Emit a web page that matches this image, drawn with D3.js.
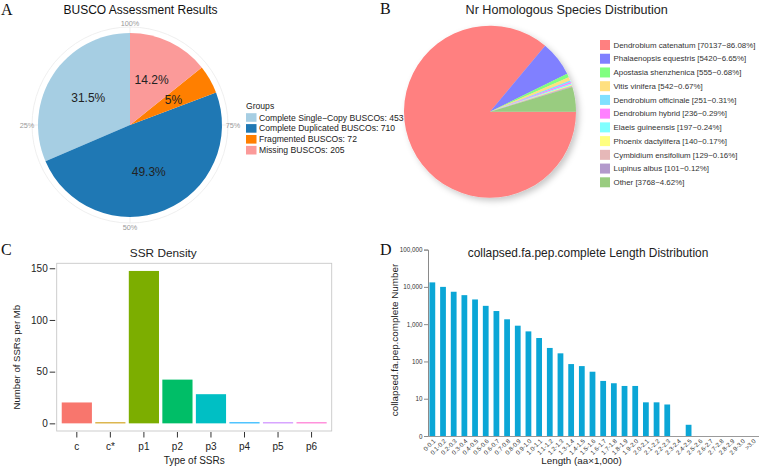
<!DOCTYPE html>
<html><head><meta charset="utf-8">
<script src="https://cdn.jsdelivr.net/npm/d3@7"></script>
<style>body{margin:0;background:#fff}svg{display:block;font-family:"Liberation Sans",Arial,sans-serif}</style>
</head><body>
<svg id="c" width="759" height="467"></svg>
<script>
// ---- Panel A data ----
const buscoGroups = ["Complete Single\u2212Copy BUSCOs", "Complete Duplicated BUSCOs", "Fragmented BUSCOs", "Missing BUSCOs"];
const buscoCounts = [453, 710, 72, 205];
const buscoColors = ["#A6CEE3", "#1F78B4", "#FF7F00", "#FB9A99"];
const buscoAngleLabels = ["100%", "25%", "50%", "75%"];
// ---- Panel B data ----
const nrSpecies = ["Dendrobium catenatum", "Phalaenopsis equestris", "Apostasia shenzhenica", "Vitis vinifera", "Dendrobium officinale", "Dendrobium hybrid", "Elaeis guineensis", "Phoenix dactylifera", "Cymbidium ensifolium", "Lupinus albus", "Other"];
const nrCounts = [70137, 5420, 555, 542, 251, 236, 197, 140, 129, 101, 3768];
const nrPercents = ["86.08%", "6.65%", "0.68%", "0.67%", "0.31%", "0.29%", "0.24%", "0.17%", "0.16%", "0.12%", "4.62%"];
const nrColors = ["#FF8080", "#8080FF", "#80FF80", "#FFE080", "#80E0FF", "#FF80FF", "#80FFFF", "#FFFF80", "#E6B8B8", "#B399CC", "#99CC80"];
// ---- Panel C data ----
const ssrTypes = ["c", "c*", "p1", "p2", "p3", "p4", "p5", "p6"];
const ssrDensity = [20.2, 1.0, 147.4, 42.3, 28.2, 1.0, 1.0, 1.0];
const ssrColors = ["#F8766D", "#CD9600", "#7CAE00", "#00BE67", "#00BFC4", "#00A9FF", "#C77CFF", "#FF61CC"];
const ssrTicks = [0, 50, 100, 150];
// ---- Panel D data ----
const lenBins = ["0-0.1","0.1-0.2","0.2-0.3","0.3-0.4","0.4-0.5","0.5-0.6","0.6-0.7","0.7-0.8","0.8-0.9","0.9-1.0","1.0-1.1","1.1-1.2","1.2-1.3","1.3-1.4","1.4-1.5","1.5-1.6","1.6-1.7","1.7-1.8","1.8-1.9","1.9-2.0","2.0-2.1","2.1-2.2","2.2-2.3","2.3-2.4","2.4-2.5","2.5-2.6","2.6-2.7","2.7-2.8","2.8-2.9","2.9-3.0",">3.0"];
const lenCounts = [13200,10000,7400,6000,4600,3100,2250,1350,910,640,425,230,165,85,75,53,30,26,22,22,8,8,7,0,2,0,0,0,1,0,0];
const lenTickValues = [1, 10, 100, 1000, 10000, 100000];
const lenTickLabels = ["0", "10", "100", "1,000", "10,000", "100,000"];

const svg = d3.select("#c");
const serif = "'Liberation Serif','Times New Roman',serif";

// Panel letters
[["A",1,14.5],["B",380,13.5],["C",1,255],["D",380,255]].forEach(([t,x,y])=>{
  svg.append("text").attr("x",x).attr("y",y).text(t).attr("font-family",serif).attr("font-size",16).attr("fill","#111");
});

// ================= Panel A =================
{
  const cx=130, cy=125, r=92;
  const g = svg.append("g").attr("transform",`translate(${cx},${cy})`);
  svg.append("text").attr("x",140.5).attr("y",14).attr("text-anchor","middle").attr("font-size",12).attr("fill","#111").text("BUSCO Assessment Results");
  g.append("circle").attr("r",98).attr("fill","none").attr("stroke","#EBEBEB").attr("stroke-width",0.8);
  [0,0.25,0.5,0.75].forEach(f=>{
    const a = -f*2*Math.PI;
    g.append("line").attr("x1",0).attr("y1",0).attr("x2",98*Math.sin(a)).attr("y2",-98*Math.cos(a)).attr("stroke","#EBEBEB").attr("stroke-width",0.8);
  });
  const pie = d3.pie().sort(null).startAngle(0).endAngle(-2*Math.PI);
  const arcs = pie(buscoCounts);
  const arc = d3.arc().innerRadius(0).outerRadius(r);
  g.selectAll("path.s").data(arcs).join("path").attr("d",arc).attr("fill",(d,i)=>buscoColors[i]);
  const total = d3.sum(buscoCounts);
  const lab = d3.arc().innerRadius(50).outerRadius(50);
  g.selectAll("text.l").data(arcs).join("text")
    .attr("transform",d=>`translate(${lab.centroid(d)})`)
    .attr("text-anchor","middle").attr("dy","0.35em").attr("font-size",12).attr("fill","#222")
    .text(d=>{const p=Math.round(d.data/total*1000)/10; return p+"%";});
  buscoAngleLabels.forEach((t,i)=>{
    const a = -i*0.25*2*Math.PI;
    g.append("text").attr("x",103*Math.sin(a)).attr("y",-102*Math.cos(a)).attr("dy","0.35em")
      .attr("text-anchor","middle").attr("font-size",7.3).attr("fill","#999").text(t);
  });
  const lg = svg.append("g");
  lg.append("text").attr("x",246).attr("y",106).attr("dy","0.35em").attr("font-size",8.6).attr("fill","#222").text("Groups");
  buscoGroups.forEach((t,i)=>{
    const y = 117.5 + i*10.9;
    lg.append("rect").attr("x",246).attr("y",y-4.3).attr("width",10.5).attr("height",8.6).attr("fill",buscoColors[i]);
    lg.append("text").attr("x",259).attr("y",y).attr("dy","0.35em").attr("font-size",8.6).attr("fill","#222").text(t+": "+buscoCounts[i]);
  });
}

// ================= Panel B =================
{
  const cx=490, cy=111.7, r=86;
  const defs = svg.append("defs");
  const f = defs.append("filter").attr("id","sh").attr("x","-20%").attr("y","-20%").attr("width","150%").attr("height","150%");
  f.append("feDropShadow").attr("dx",3).attr("dy",3).attr("stdDeviation",3).attr("flood-color","#000").attr("flood-opacity",0.22);
  svg.append("text").attr("x",566.7).attr("y",13.5).attr("text-anchor","middle").attr("font-size",12.6).attr("fill","#222").text("Nr Homologous Species Distribution");
  const g = svg.append("g").attr("transform",`translate(${cx},${cy})`);
  const pie = d3.pie().sort(null).startAngle(Math.PI/2).endAngle(Math.PI/2+2*Math.PI);
  const arc = d3.arc().innerRadius(0).outerRadius(r);
  const pg = g.append("g").attr("filter","url(#sh)");
  pg.selectAll("path").data(pie(nrCounts)).join("path").attr("d",arc).attr("fill",(d,i)=>nrColors[i]);
  nrSpecies.forEach((t,i)=>{
    const y = 45 + i*13.73;
    svg.append("rect").attr("x",600).attr("y",y-5).attr("width",10).attr("height",10).attr("fill",nrColors[i]);
    svg.append("text").attr("x",613.5).attr("y",y).attr("dy","0.35em").attr("font-size",7.9).attr("fill","#333")
      .text(`${t} [${nrCounts[i]}~${nrPercents[i]}]`);
  });
}

// ================= Panel C =================
{
  const L=56.7, R=331.7, T=263.3, B=431;
  const x = d3.scaleBand().domain(ssrTypes).range([L,R]).paddingInner(0.1).paddingOuter(0.15);
  const y = d3.scaleLinear().domain([-7.4,154.8]).range([B,T]);
  svg.append("text").attr("x",163.3).attr("y",256.5).attr("text-anchor","middle").attr("font-size",11.8).attr("fill","#222").text("SSR Density");
  svg.selectAll("rect.ssr").data(ssrTypes).join("rect").attr("class","ssr")
    .attr("x",d=>x(d)).attr("width",x.bandwidth())
    .attr("y",(d,i)=>y(ssrDensity[i])).attr("height",(d,i)=>y(0)-y(ssrDensity[i]))
    .attr("fill",(d,i)=>ssrColors[i]);
  svg.append("rect").attr("x",L).attr("y",T).attr("width",R-L).attr("height",B-T).attr("fill","none").attr("stroke","#C8C8C8").attr("stroke-width",0.9);
  const ya = svg.append("g").attr("transform",`translate(${L-1.5},0)`)
    .call(d3.axisLeft(y).tickValues(ssrTicks).tickSize(5.5).tickPadding(2));
  ya.select(".domain").remove();
  ya.selectAll("line").attr("stroke","#333");
  ya.selectAll("text").attr("font-size",10).attr("fill","#222").attr("font-family",null);
  const xa = svg.append("g").attr("transform",`translate(0,${B+1})`)
    .call(d3.axisBottom(x).tickSize(5.5).tickPadding(5));
  xa.select(".domain").remove();
  xa.selectAll("line").attr("stroke","#333");
  xa.selectAll("text").attr("font-size",10).attr("fill","#222").attr("font-family",null);
  svg.append("text").attr("x",(L+R)/2).attr("y",463.5).attr("text-anchor","middle").attr("font-size",10).attr("fill","#222").text("Type of SSRs");
  svg.append("text").attr("transform",`translate(17,${(T+B)/2+10}) rotate(-90)`).attr("text-anchor","middle").attr("dy","0.35em").attr("font-size",9.6).attr("fill","#222").text("Number of SSRs per Mb");
}

// ================= Panel D =================
{
  const L=428, R=758, B=436, T=249.6;
  const x = d3.scaleBand().domain(lenBins).range([427,758]).paddingInner(0.46).paddingOuter(0.23);
  const y = d3.scaleLog().domain([1,100000]).range([B,T]);
  svg.append("text").attr("x",588).attr("y",257).attr("text-anchor","middle").attr("font-size",11.9).attr("fill","#222").text("collapsed.fa.pep.complete Length Distribution");
  svg.selectAll("rect.len").data(lenBins).join("rect").attr("class","len")
    .attr("x",d=>x(d)).attr("width",x.bandwidth())
    .attr("y",(d,i)=>y(Math.max(1,lenCounts[i]))).attr("height",(d,i)=>B-y(Math.max(1,lenCounts[i])))
    .attr("fill","#0BA6D6");
  const ya = svg.append("g").attr("transform",`translate(${L},0)`)
    .call(d3.axisLeft(y).tickValues(lenTickValues).tickFormat((d,i)=>lenTickLabels[i]).tickSize(4).tickPadding(1.5));
  ya.select(".domain").attr("stroke","#8A8A8A");
  ya.selectAll("line").attr("stroke","#8A8A8A");
  ya.selectAll("text").attr("font-size",6.3).attr("fill","#333").attr("font-family",null);
  svg.append("line").attr("x1",L).attr("x2",R+1).attr("y1",B+0.5).attr("y2",B+0.5).attr("stroke","#9A9A9A");
  svg.selectAll("text.xl").data(lenBins).join("text").attr("class","xl")
    .attr("transform",d=>`translate(${x(d)+x.bandwidth()/2+2},${B+4}) rotate(-45)`)
    .attr("text-anchor","end").attr("dy","0.35em").attr("font-size",6.2).attr("fill","#333").text(d=>d);
  svg.append("text").attr("x",581.5).attr("y",463.5).attr("text-anchor","middle").attr("font-size",9.8).attr("fill","#222").text("Length (aa\u00D71,000)");
  svg.append("text").attr("transform",`translate(395,340) rotate(-90)`).attr("text-anchor","middle").attr("dy","0.35em").attr("font-size",9.9).attr("fill","#222").text("collapsed.fa.pep.complete Number");
}
</script>
</body></html>
